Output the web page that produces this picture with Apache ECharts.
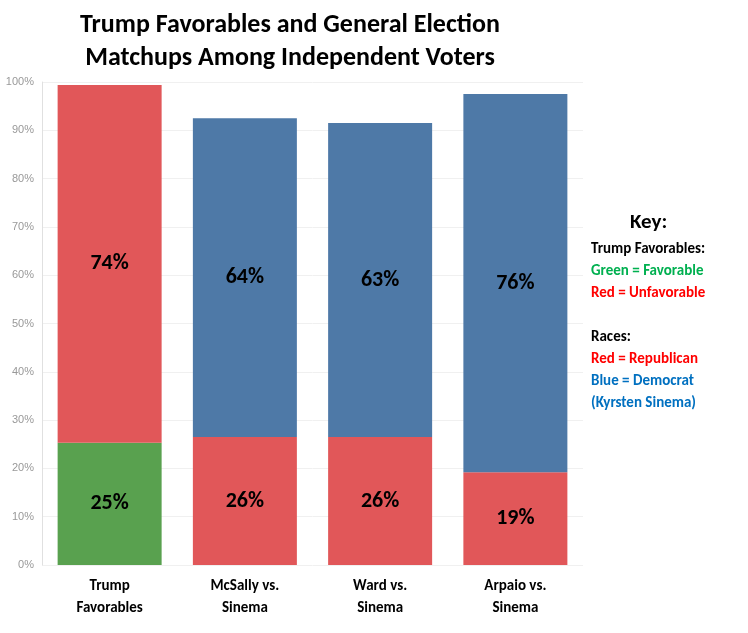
<!DOCTYPE html>
<html><head><meta charset="utf-8">
<script src="https://cdn.jsdelivr.net/npm/echarts@6/dist/echarts.min.js"></script>
<style>html,body{margin:0;background:#fff}#c{width:748px;height:633px}</style>
</head><body><div id="c"></div>
<script>
const categories = ['Trump\nFavorables', 'McSally vs.\nSinema', 'Ward vs.\nSinema', 'Arpaio vs.\nSinema'];
const bottomValues = [25.3, 26.5, 26.5, 19.2];
const topValues = [74.1, 66, 65, 78.3];
const bottomLabels = ['25%', '26%', '26%', '19%'];
const topLabels = ['74%', '64%', '63%', '76%'];
const bottomColors = ['#59a14f', '#e15759', '#e15759', '#e15759'];
const topColors = ['#e15759', '#4e79a7', '#4e79a7', '#4e79a7'];
const yTicks = [0,10,20,30,40,50,60,70,80,90,100];

const font = 'Calibri, "Liberation Sans", "Open Sans", sans-serif';
const lbl = {show:true, position:'inside', fontSize:22, fontWeight:'bold', color:'#000', fontFamily:font};
const chart = echarts.init(document.getElementById('c'));
chart.setOption({
  animation:false,
  title:{text:'Trump Favorables and General Election\nMatchups Among Independent Voters', left:285, top:4, textAlign:'center',
    textStyle:{fontSize:26, fontWeight:'bold', color:'#000', lineHeight:33, fontFamily:font}},
  grid:{left:42, right:165, top:82, bottom:68},
  xAxis:{type:'category', data:categories, axisLine:{show:false}, axisTick:{show:false},
    axisLabel:{fontSize:15, fontWeight:'bold', color:'#000', lineHeight:22, margin:10, fontFamily:font}},
  yAxis:{type:'value', min:0, max:100, interval:10,
    axisLabel:{formatter:v=>yTicks.includes(v)?v+'%':'', color:'#999', fontSize:11},
    splitLine:{lineStyle:{color:'#f0f0f0'}}, axisLine:{show:true, lineStyle:{color:'#e0e0e0'}}},
  series:[
    {type:'bar', stack:'s', barWidth:104, data:bottomValues.map((v,i)=>({value:v, itemStyle:{color:bottomColors[i]}})),
      label:{...lbl, formatter:p=>bottomLabels[p.dataIndex]}},
    {type:'bar', stack:'s', barWidth:104, data:topValues.map((v,i)=>({value:v, itemStyle:{color:topColors[i]}})),
      label:{...lbl, formatter:p=>topLabels[p.dataIndex]}}
  ],
  graphic:[
    {type:'text', left:630, top:212, style:{text:'Key:', fill:'#000', font:'bold 21px '+font}},
    {type:'text', left:591, top:242, style:{text:'Trump Favorables:', fill:'#000', font:'bold 15px '+font}},
    {type:'text', left:591, top:264, style:{text:'Green = Favorable', fill:'#00b050', font:'bold 15px '+font}},
    {type:'text', left:591, top:286, style:{text:'Red = Unfavorable', fill:'#ff0000', font:'bold 15px '+font}},
    {type:'text', left:591, top:330, style:{text:'Races:', fill:'#000', font:'bold 15px '+font}},
    {type:'text', left:591, top:352, style:{text:'Red = Republican', fill:'#ff0000', font:'bold 15px '+font}},
    {type:'text', left:591, top:374, style:{text:'Blue = Democrat', fill:'#0070c0', font:'bold 15px '+font}},
    {type:'text', left:591, top:396, style:{text:'(Kyrsten Sinema)', fill:'#0070c0', font:'bold 15px '+font}}
  ]
});
</script></body></html>
